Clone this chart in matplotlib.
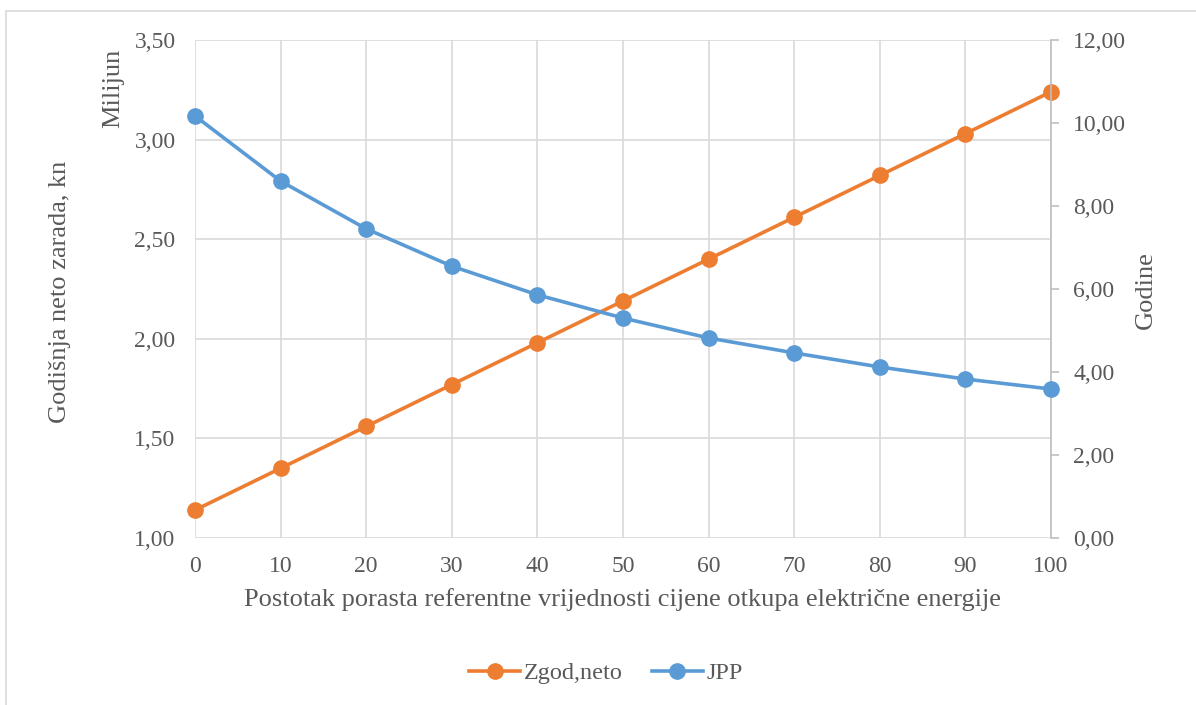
import matplotlib.pyplot as plt
from matplotlib.patches import Rectangle
from matplotlib.ticker import FuncFormatter

x_pct = [0, 10, 20, 30, 40, 50, 60, 70, 80, 90, 100]
zgod_neto = [1.14, 1.35, 1.56, 1.77, 1.98, 2.19, 2.40, 2.61, 2.82, 3.03, 3.24]
jpp = [10.17, 8.60, 7.45, 6.55, 5.86, 5.30, 4.82, 4.46, 4.12, 3.83, 3.59]

orange = '#ED7D31'
blue = '#5B9BD5'
txt = '#595959'
grid = '#D9D9D9'

plt.rcParams['font.family'] = ['Liberation Serif', 'DejaVu Serif']

fig = plt.figure(figsize=(11.96, 7.05), dpi=100)
fig.patches.append(Rectangle((6 / 1196, -0.1), 1.2, 1 - 11 / 705 + 0.1,
                             transform=fig.transFigure, fill=False,
                             edgecolor='#D9D9D9', linewidth=1.2))

ax = fig.add_axes([195 / 1196, 1 - 538 / 705, (1051 - 195) / 1196, (538 - 40) / 705])
ax2 = ax.twinx()

comma = FuncFormatter(lambda v, p: f'{v:.2f}'.replace('.', ','))

l1, = ax.plot(x_pct, zgod_neto, color=orange, lw=2.6, marker='o', ms=11, label='Zgod,neto',
              zorder=3, clip_on=False)
l2, = ax2.plot(x_pct, jpp, color=blue, lw=2.6, marker='o', ms=11, label='JPP',
               zorder=3, clip_on=False)

ax.set_xlim(0, 100)
ax.set_ylim(1.0, 3.5)
ax.set_xticks(x_pct)
ax.set_yticks([1.0, 1.5, 2.0, 2.5, 3.0, 3.5])
ax.yaxis.set_major_formatter(comma)
ax2.set_ylim(0, 12)
ax2.set_yticks([0, 2, 4, 6, 8, 10, 12])
ax2.yaxis.set_major_formatter(comma)

ax.grid(True, color=grid, lw=1.2)
ax.set_axisbelow(True)
for a in (ax, ax2):
    for s in a.spines.values():
        s.set_visible(False)
    a.tick_params(colors=txt, labelsize=17, length=0)
ax2.spines['right'].set_visible(True)
ax2.spines['right'].set_color('#BFBFBF')
ax2.spines['right'].set_linewidth(1.2)
ax2.tick_params(axis='y', length=6, width=1.2, color='#BFBFBF', pad=10)
ax.tick_params(axis='y', pad=14)
ax.tick_params(axis='x', pad=13)

ax.set_xlabel('Postotak porasta referentne vrijednosti cijene otkupa električne energije',
              fontsize=19, color=txt, labelpad=8)
fig.text(60 / 1196, 1 - 292 / 705, 'Godišnja neto zarada, kn', rotation=90,
         ha='center', va='center', fontsize=19, color=txt)
fig.text(113 / 1196, 1 - 88 / 705, 'Milijun', rotation=90,
         ha='center', va='center', fontsize=19, color=txt)
fig.text(1146 / 1196, 1 - 290 / 705, 'Godine', rotation=90,
         ha='center', va='center', fontsize=19, color=txt)

fig.legend(handles=[l1, l2], loc='center', bbox_to_anchor=(606 / 1196, 1 - 673 / 705),
           ncol=2, frameon=False, fontsize=17.5, labelcolor=txt, handlelength=2.1,
           columnspacing=1.2, handletextpad=0.15)

fig.savefig('out.png', dpi=100)
